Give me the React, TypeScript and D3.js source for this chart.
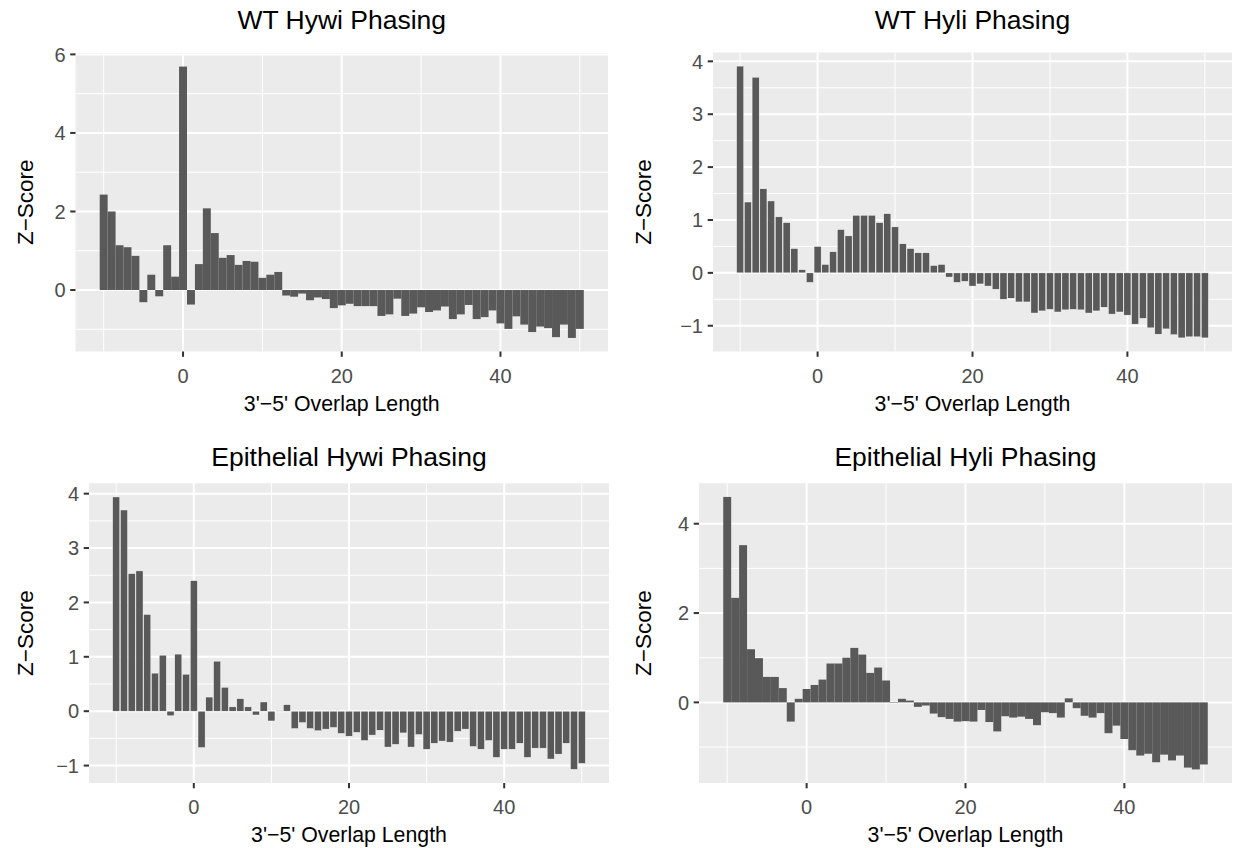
import React from "react";
import * as d3 from "d3";

// ---------- data ----------
const overlapLength = [
  -10, -9, -8, -7, -6, -5, -4, -3, -2, -1,
  0, 1, 2, 3, 4, 5, 6, 7, 8, 9,
  10, 11, 12, 13, 14, 15, 16, 17, 18, 19,
  20, 21, 22, 23, 24, 25, 26, 27, 28, 29,
  30, 31, 32, 33, 34, 35, 36, 37, 38, 39,
  40, 41, 42, 43, 44, 45, 46, 47, 48, 49, 50,
];

const wtHywi = [
  2.43, 2.0, 1.14, 1.09, 0.87, -0.31, 0.39, -0.16, 1.14, 0.34,
  5.69, -0.37, 0.66, 2.08, 1.45, 0.82, 0.89, 0.64, 0.74, 0.72,
  0.31, 0.39, 0.46, -0.14, -0.17, -0.09, -0.26, -0.19, -0.23, -0.46,
  -0.39, -0.35, -0.41, -0.41, -0.41, -0.66, -0.62, -0.22, -0.66, -0.6,
  -0.44, -0.56, -0.52, -0.42, -0.74, -0.62, -0.38, -0.74, -0.69, -0.52,
  -0.85, -0.99, -0.67, -0.88, -1.07, -0.93, -0.97, -1.2, -0.88, -1.22, -0.99,
];

const wtHyli = [
  3.91, 1.34, 3.7, 1.59, 1.36, 1.06, 0.95, 0.46, 0.06, -0.18,
  0.5, 0.16, 0.4, 0.82, 0.7, 1.09, 1.09, 1.09, 0.95, 1.12,
  0.87, 0.55, 0.46, 0.38, 0.38, 0.14, 0.16, -0.08, -0.18, -0.16,
  -0.25, -0.21, -0.25, -0.31, -0.5, -0.48, -0.55, -0.55, -0.76, -0.72,
  -0.69, -0.74, -0.7, -0.69, -0.7, -0.76, -0.72, -0.65, -0.78, -0.74,
  -0.8, -0.97, -0.86, -1.04, -1.16, -1.06, -1.17, -1.23, -1.21, -1.21, -1.23,
];

const epiHywi = [
  3.94, 3.7, 2.53, 2.58, 1.78, 0.7, 1.03, -0.085, 1.05, 0.68,
  2.4, -0.67, 0.26, 0.92, 0.44, 0.08, 0.23, 0.08, -0.07, 0.17,
  -0.18, 0.01, 0.12, -0.32, -0.21, -0.32, -0.36, -0.33, -0.3, -0.41,
  -0.46, -0.39, -0.54, -0.44, -0.35, -0.66, -0.61, -0.4, -0.66, -0.43,
  -0.7, -0.59, -0.55, -0.57, -0.37, -0.33, -0.65, -0.7, -0.54, -0.85,
  -0.7, -0.7, -0.59, -0.85, -0.68, -0.68, -0.88, -0.79, -0.59, -1.07, -0.96,
];

const epiHyli = [
  4.6, 2.34, 3.52, 1.19, 0.99, 0.57, 0.57, 0.32, -0.43, 0.08,
  0.3, 0.39, 0.51, 0.87, 0.87, 1.0, 1.22, 1.07, 0.66, 0.78,
  0.49, -0.01, 0.08, 0.04, -0.1, -0.07, -0.25, -0.33, -0.37, -0.43,
  -0.42, -0.43, -0.17, -0.44, -0.65, -0.31, -0.34, -0.32, -0.37, -0.51,
  -0.22, -0.24, -0.34, 0.09, -0.13, -0.3, -0.34, -0.24, -0.69, -0.52,
  -0.82, -1.07, -1.19, -1.15, -1.34, -1.17, -1.3, -1.19, -1.46, -1.5, -1.39,
];

const titles = [
  "WT Hywi Phasing",
  "WT Hyli Phasing",
  "Epithelial Hywi Phasing",
  "Epithelial Hyli Phasing",
];

const xMajorTicks = [0, 20, 40];
const xMinorTicks = [-10, 10, 30, 50];

const yMajorA = [0, 2, 4, 6];
const yMinorA = [-1, 1, 3, 5];
const yMajorB = [-1, 0, 1, 2, 3, 4];
const yMinorB = [-0.5, 0.5, 1.5, 2.5, 3.5];
const yMajorC = [-1, 0, 1, 2, 3, 4];
const yMinorC = [-0.5, 0.5, 1.5, 2.5, 3.5];
const yMajorD = [0, 2, 4];
const yMinorD = [-1, 1, 3];

const xTitle = "3'\u22125' Overlap Length";
const yTitle = "Z\u2212Score";

// ---------- style ----------
const FONT = "'Liberation Sans', Arial, Helvetica, sans-serif";
const PANEL_BG = "#EBEBEB";
const BAR = "#595959";
const TICK_FS = 20;

type Layout = {
  left: number;
  right: number;
  top: number;
  bottom: number;
  titleY: number;
  originX: number;
};

type PanelProps = {
  title: string;
  values: number[];
  layout: Layout;
  majorY: number[];
  minorY: number[];
  barWidth: number;
  gapStroke: boolean;
};

function Panel({ title, values, layout, majorY, minorY, barWidth, gapStroke }: PanelProps) {
  const { left, right, top, bottom, titleY, originX } = layout;
  const xMin = d3.min(overlapLength)! - barWidth / 2;
  const xMax = d3.max(overlapLength)! + barWidth / 2;
  const xExp = 0.05 * (xMax - xMin);
  const x = d3.scaleLinear().domain([xMin - xExp, xMax + xExp]).range([left, right]);

  const yLo = Math.min(0, d3.min(values)!);
  const yHi = Math.max(0, d3.max(values)!);
  const yExp = 0.05 * (yHi - yLo);
  const y = d3.scaleLinear().domain([yLo - yExp, yHi + yExp]).range([bottom, top]);

  const fmt = d3.format("d");
  const cx = (left + right) / 2;
  const cy = (top + bottom) / 2;

  return (
    <g>
      <rect x={left} y={top} width={right - left} height={bottom - top} fill={PANEL_BG} />
      {minorY.map((t) => (
        <line key={"ym" + t} x1={left} x2={right} y1={y(t)} y2={y(t)} stroke="#fff" strokeWidth={1} />
      ))}
      {xMinorTicks.map((t) => (
        <line key={"xm" + t} x1={x(t)} x2={x(t)} y1={top} y2={bottom} stroke="#fff" strokeWidth={1} />
      ))}
      {majorY.map((t) => (
        <line key={"yM" + t} x1={left} x2={right} y1={y(t)} y2={y(t)} stroke="#fff" strokeWidth={2} />
      ))}
      {xMajorTicks.map((t) => (
        <line key={"xM" + t} x1={x(t)} x2={x(t)} y1={top} y2={bottom} stroke="#fff" strokeWidth={2} />
      ))}
      {overlapLength.map((v, i) => {
        const val = values[i];
        const x0 = x(v - barWidth / 2);
        const x1 = x(v + barWidth / 2);
        const y0 = y(Math.max(0, val));
        const y1 = y(Math.min(0, val));
        return (
          <rect
            key={"b" + v}
            x={x0}
            y={y0}
            width={x1 - x0}
            height={Math.max(0.5, y1 - y0)}
            fill={BAR}
            stroke={gapStroke ? "#fff" : "none"}
            strokeWidth={gapStroke ? 0.45 : 0}
          />
        );
      })}
      {majorY.map((t) => (
        <g key={"yt" + t}>
          <line x1={left - 5.3} x2={left} y1={y(t)} y2={y(t)} stroke="#333333" strokeWidth={2} />
          <text
            x={left - 10}
            y={y(t)}
            dy="0.36em"
            textAnchor="end"
            fontSize={TICK_FS}
            fill="#4D4D4D"
            fontFamily={FONT}
          >
            {fmt(t)}
          </text>
        </g>
      ))}
      {xMajorTicks.map((t) => (
        <g key={"xt" + t}>
          <line x1={x(t)} x2={x(t)} y1={bottom} y2={bottom + 5.3} stroke="#333333" strokeWidth={2} />
          <text
            x={x(t)}
            y={bottom + 31}
            textAnchor="middle"
            fontSize={TICK_FS}
            fill="#4D4D4D"
            fontFamily={FONT}
          >
            {fmt(t)}
          </text>
        </g>
      ))}
      <text x={cx} y={titleY} textAnchor="middle" fontSize={26.5} fill="#000" fontFamily={FONT}>
        {title}
      </text>
      <text x={cx} y={bottom + 59} textAnchor="middle" fontSize={21.3} fill="#000" fontFamily={FONT}>
        {xTitle}
      </text>
      <text
        transform={`translate(${originX + 33},${cy}) rotate(-90)`}
        textAnchor="middle"
        fontSize={22.5}
        fill="#000"
        fontFamily={FONT}
      >
        {yTitle}
      </text>
    </g>
  );
}

const layouts: Layout[] = [
  { left: 75.5, right: 608, top: 53, bottom: 351.5, titleY: 29, originX: 0 },
  { left: 713, right: 1232, top: 52.5, bottom: 351.5, titleY: 29, originX: 618 },
  { left: 89, right: 609, top: 483.3, bottom: 783, titleY: 466, originX: 0 },
  { left: 699, right: 1232, top: 483.3, bottom: 783, titleY: 466, originX: 618 },
];

export default function App() {
  return (
    <svg
      width={1236}
      height={848}
      style={{ position: "absolute", left: 0, top: 0, background: "#fff" }}
    >
      <rect x={0} y={0} width={1236} height={848} fill="#fff" />
      <Panel title={titles[0]} values={wtHywi} layout={layouts[0]} majorY={yMajorA} minorY={yMinorA} barWidth={1} gapStroke={false} />
      <Panel title={titles[1]} values={wtHyli} layout={layouts[1]} majorY={yMajorB} minorY={yMinorB} barWidth={0.92} gapStroke={true} />
      <Panel title={titles[2]} values={epiHywi} layout={layouts[2]} majorY={yMajorC} minorY={yMinorC} barWidth={0.92} gapStroke={true} />
      <Panel title={titles[3]} values={epiHyli} layout={layouts[3]} majorY={yMajorD} minorY={yMinorD} barWidth={1} gapStroke={false} />
    </svg>
  );
}
